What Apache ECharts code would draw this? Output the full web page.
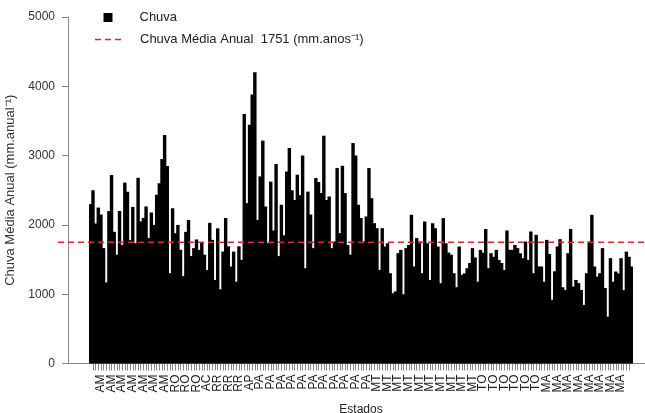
<!DOCTYPE html>
<html><head><meta charset="utf-8">
<script src="https://cdn.jsdelivr.net/npm/echarts@6/dist/echarts.min.js"></script>
<style>html,body{margin:0;padding:0;background:#fff}#c{width:645px;height:413px}</style>
</head><body><div id="c"></div>
<script>
// State label shown under every 4th bar (left to right)
const stateLabels = [
  'AM','AM','AM','AM','AM','AM','AM','AM',
  'RO','RO','RO','AC','RR','RR','RR','AP',
  'PA','PA','PA','PA','PA','PA','PA','PA','PA','PA','PA',
  'MT','MT','MT','MT','MT','MT','MT','MT','MT','MT',
  'TO','TO','TO','TO','TO','TO',
  'MA','MA','MA','MA','MA','MA','MA','MA','MA'
];
const barsPerLabel = 4;
// Annual mean rainfall per station (mm)
const rainfall = [
  2300,2500,2020,2250,2150,1665,1170,2200,2720,1900,
  1570,2200,1710,2610,2480,1780,2260,1735,2680,2050,
  2100,2266,1810,2180,2000,2435,2600,2950,3297,2850,
  1303,2240,1880,2000,1640,1260,1900,2070,1550,1665,
  1790,1640,1745,1570,1350,2030,1784,1206,1950,
  1070,1615,2100,1690,1400,1615,1180,1690,1495,3600,
  2315,3445,3880,4203,2070,2700,3216,2266,1735,2625,
  1920,2878,1550,
  2290,1850,2770,3109,2500,2360,2724,2430,3000,1375,
  2480,2150,1665,2676,2620,2460,3287,2360,2410,1665,
  1760,2820,1880,2854,2459,1710,1570,3181,3000,2290,
  2100,1760,2120,2820,2385,2025,1953,1350,1953,
  1688,1735,1303,1014,1040,1592,1640,1000,1665,1710,
  2146,1400,1810,1760,1303,2050,1735,1206,2025,1953,
  1688,1158,2098,1735,1600,1570,1303,1100,1688,1280,
  1300,1375,1450,
  1665,1530,1180,1640,1600,1940,1375,1592,1540,1640,
  1495,1450,1350,1920,1640,1640,1710,1665,1590,1520,
  1760,1495,1905,1303,1857,1400,1400,1180,1784,
  1580,920,1330,1688,1794,1100,1060,1592,1940,1110,
  1206,1160,1060,845,1303,1760,2146,1400,1254,1303,
  1665,1090,676,1520,1180,1327,1300,1520,1060,1615,
  1540,1400
];
const meanRain = 1751;
const yMin = 0, yMax = 5000, yStep = 1000;

const categories = rainfall.map((v, i) => stateLabels[Math.floor(i / barsPerLabel)]);
const meanName = 'Chuva Média Anual  ' + meanRain + ' (mm.anos\u207B\u00B9)';
const FONT = '"Liberation Sans", Arial, sans-serif';
const RED = '#d42a2a';

const chart = echarts.init(document.getElementById('c'), null, {renderer: 'canvas'});
chart.setOption({
  animation: false,
  backgroundColor: '#fff',
  textStyle: {fontFamily: FONT},
  grid: [
    {left: 89, right: 12, top: 17, bottom: 49.5, containLabel: false, outerBoundsMode: 'none'},
    {left: 58, right: 0, top: 17, bottom: 49.5, containLabel: false, outerBoundsMode: 'none'}
  ],
  legend: [
    {data: ['Chuva'], left: 103.5, top: 11, padding: 0, itemWidth: 9, itemHeight: 9, icon: 'rect',
     textStyle: {fontSize: 13, color: '#222', fontFamily: FONT, padding: [0, 0, 0, 22]}},
    {data: [{name: meanName, icon: 'path://M0,0h6v1.6h-6z M10,0h6v1.6h-6z M20,0h6v1.6h-6z'}],
     left: 95, top: 33, padding: 0, itemWidth: 26, itemHeight: 2,
     textStyle: {fontSize: 13, color: '#222', fontFamily: FONT, padding: [0, 0, 0, 14]}}
  ],
  xAxis: [
    {type: 'category', gridIndex: 0, data: categories,
     axisLine: {show: false},
     axisTick: {show: true, interval: 0, length: 7, alignWithLabel: true, lineStyle: {color: '#888'}},
     axisLabel: {interval: barsPerLabel - 1, rotate: 90, fontSize: 12, color: '#222', margin: 11, fontFamily: FONT},
     name: 'Estados', nameLocation: 'middle', nameGap: 40,
     nameTextStyle: {fontSize: 12, color: '#222', fontFamily: FONT}},
    {type: 'value', gridIndex: 1, min: 0, max: 1, show: false}
  ],
  yAxis: [
    {type: 'value', gridIndex: 0, min: yMin, max: yMax, interval: yStep, offset: 21,
     axisLine: {show: true, lineStyle: {color: '#888'}},
     axisTick: {show: true, length: 6, lineStyle: {color: '#888'}},
     axisLabel: {fontSize: 12, color: '#333', margin: 13, fontFamily: FONT, formatter: v => String(v)},
     splitLine: {show: false},
     name: 'Chuva Média Anual (mm.anual\u207B\u00B9)', nameLocation: 'middle', nameGap: 38,
     nameTextStyle: {fontSize: 13, color: '#333', fontFamily: FONT}},
    {type: 'value', gridIndex: 1, min: yMin, max: yMax, show: false}
  ],
  series: [
    {name: 'Chuva', type: 'bar', xAxisIndex: 0, yAxisIndex: 0, data: rainfall,
     barWidth: 3.4, barGap: '-100%',
     itemStyle: {color: '#000'}, silent: true},
    {name: meanName, type: 'line', xAxisIndex: 1, yAxisIndex: 1,
     data: [[0, meanRain], [1, meanRain]], symbol: 'none', silent: true, z: 5,
     lineStyle: {color: RED, width: 1.5, type: [6, 4]}, itemStyle: {color: RED}}
  ],
  graphic: [
    {type: 'line', shape: {x1: 68, y1: 363.5, x2: 645, y2: 363.5}, style: {stroke: '#888', lineWidth: 1}, z: 0}
  ]
});
</script></body></html>
